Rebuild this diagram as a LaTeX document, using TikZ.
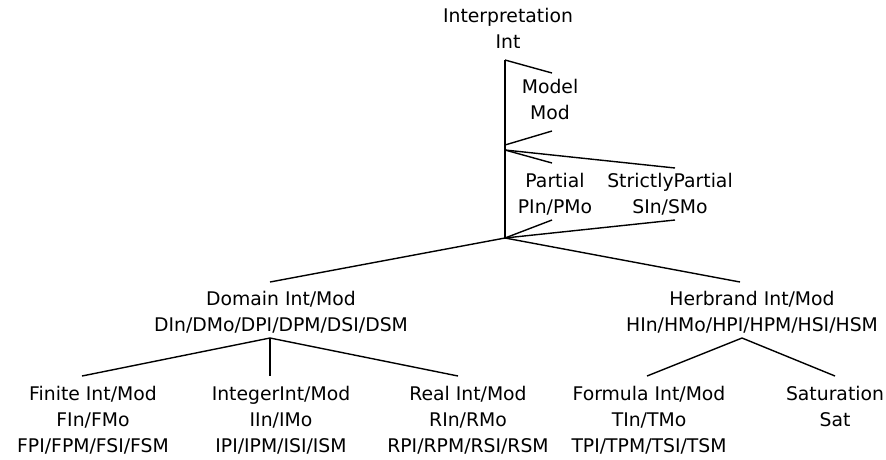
\documentclass[tikz,border=0pt]{standalone}
\usepackage{fontspec}
\setmainfont{DejaVu Sans}
\usepackage{tikz}
\usetikzlibrary{positioning}
\tikzset{
  lbl/.style={align=center, inner sep=0pt, anchor=base, font=\fontsize{18.8}{26}\selectfont},
  edge/.style={line width=1.4pt}
}

\begin{document}
\begin{tikzpicture}[x=1pt, y=-1pt]
\useasboundingbox (0,0) rectangle (886,459);
% upper part (base = last line)
\node[lbl] (int) at (508,48) {Interpretation\\Int};
\node[lbl] (mod) at (550,119) {Model\\Mod};
\node[lbl] (par) at (555,213) {Partial\\PIn/PMo};
\node[lbl] (spar) at (670,213) {StrictlyPartial\\SIn/SMo};
\coordinate (int-j) at (505,60);
\coordinate (mod-n) at (552,73);
\coordinate (mod-s) at (552,131);
\coordinate (mod-j) at (505,145);
\coordinate (par-j) at (505,150);
\coordinate (par-n) at (552,163);
\coordinate (spar-n) at (675,168);
\coordinate (par-s) at (552,220);
\coordinate (spar-s) at (675,220);
\coordinate (root-j) at (505,238);
\draw[edge] (int-j) -- (root-j);
\draw[edge] (int-j) -- (mod-n);
\draw[edge] (mod-s) -- (mod-j);
\draw[edge] (par-j) -- (par-n);
\draw[edge] (par-j) -- (spar-n);
\draw[edge] (par-s) -- (root-j);
\draw[edge] (spar-s) -- (root-j);
% middle level
\node[lbl] (dom) at (281,331) {Domain Int/Mod\\DIn/DMo/DPI/DPM/DSI/DSM};
\node[lbl] (herb) at (752,331) {Herbrand Int/Mod\\HIn/HMo/HPI/HPM/HSI/HSM};
\coordinate (dom-n) at (270,282);
\coordinate (herb-n) at (740,282);
\draw[edge] (root-j) -- (dom-n);
\draw[edge] (root-j) -- (herb-n);
% lower level
\node[lbl] (fin) at (93,452) {Finite Int/Mod\\FIn/FMo\\FPI/FPM/FSI/FSM};
\node[lbl] (integ) at (281,452) {IntegerInt/Mod\\IIn/IMo\\IPI/IPM/ISI/ISM};
\node[lbl] (real) at (468,452) {Real Int/Mod\\RIn/RMo\\RPI/RPM/RSI/RSM};
\node[lbl] (form) at (649,452) {Formula Int/Mod\\TIn/TMo\\TPI/TPM/TSI/TSM};
\node[lbl] (sat) at (835,426) {Saturation\\Sat};
\coordinate (dom-s) at (270,338);
\coordinate (fin-n) at (82,376);
\coordinate (integ-n) at (270,376);
\coordinate (real-n) at (458,376);
\coordinate (herb-s) at (742,338);
\coordinate (form-n) at (647,376);
\coordinate (sat-n) at (835,376);
\draw[edge] (dom-s) -- (fin-n);
\draw[edge] (dom-s) -- (integ-n);
\draw[edge] (dom-s) -- (real-n);
\draw[edge] (herb-s) -- (form-n);
\draw[edge] (herb-s) -- (sat-n);
\end{tikzpicture}
\end{document}
